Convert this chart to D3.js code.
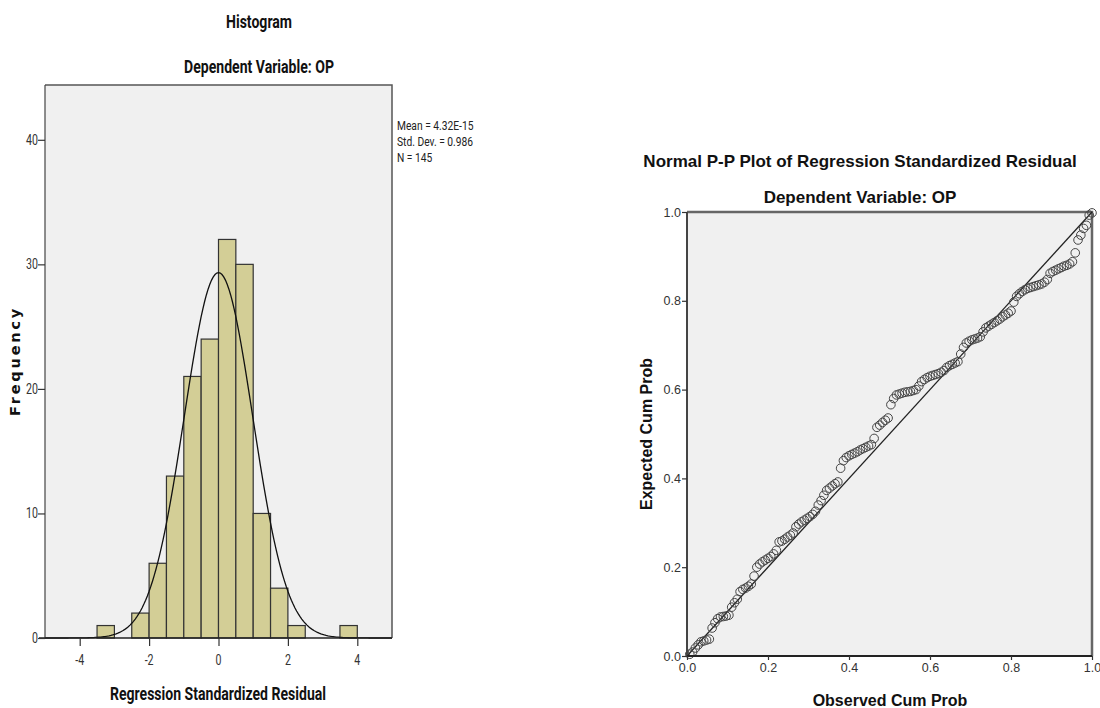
<!DOCTYPE html>
<html>
<head>
<meta charset="utf-8">
<script src="https://cdn.jsdelivr.net/npm/d3@7"></script>
<style>
  body { margin: 0; background: #fff; }
  .narrow { font-family: 'Liberation Sans Narrow', 'Arial Narrow', Roboto, sans-serif; }
  .wide { font-family: 'Liberation Sans', Arial, sans-serif; }
</style>
</head>
<body>
<svg id="chart" width="1100" height="708"></svg>
<script>
// histogram bins (width 0.5) and counts
const binStarts = [-3.5, -2.5, -2, -1.5, -1, -0.5, 0, 0.5, 1, 1.5, 2, 3.5];
const binCounts = [1, 2, 6, 13, 21, 24, 32, 30, 10, 4, 1, 1];
const binWidth = 0.5;
const histXTicks = [-4, -2, 0, 2, 4];
const histYTicks = [0, 10, 20, 30, 40];
const statLines = ['Mean = 4.32E-15', 'Std. Dev. = 0.986', 'N = 145'];
const statMean = 0, statSd = 0.986, statN = 145;

// P-P plot: expected cum prob for each residual, in rank order
const expectedCum = [
  0.004, 0.009, 0.018, 0.025, 0.032, 0.034, 0.036, 0.038, 0.063, 0.075,
  0.084, 0.088, 0.089, 0.090, 0.092, 0.110, 0.120, 0.128, 0.145, 0.150,
  0.153, 0.157, 0.162, 0.180, 0.200, 0.207, 0.212, 0.216, 0.220, 0.224,
  0.230, 0.238, 0.257, 0.259, 0.263, 0.268, 0.272, 0.277, 0.291, 0.297,
  0.302, 0.306, 0.310, 0.314, 0.319, 0.326, 0.340, 0.350, 0.362, 0.373,
  0.378, 0.383, 0.388, 0.392, 0.423, 0.440, 0.447, 0.451, 0.454, 0.457,
  0.460, 0.464, 0.467, 0.470, 0.473, 0.476, 0.490, 0.515, 0.520, 0.526,
  0.531, 0.536, 0.566, 0.580, 0.588, 0.590, 0.592, 0.594, 0.595, 0.596,
  0.598, 0.600, 0.608, 0.618, 0.623, 0.627, 0.630, 0.632, 0.634, 0.636,
  0.639, 0.643, 0.650, 0.654, 0.657, 0.660, 0.663, 0.680, 0.695, 0.705,
  0.709, 0.712, 0.714, 0.716, 0.719, 0.730, 0.739, 0.743, 0.747, 0.751,
  0.755, 0.759, 0.764, 0.768, 0.772, 0.777, 0.797, 0.810, 0.816, 0.821,
  0.825, 0.828, 0.830, 0.832, 0.834, 0.836, 0.838, 0.842, 0.848, 0.862,
  0.866, 0.869, 0.872, 0.875, 0.878, 0.880, 0.883, 0.888, 0.908, 0.937,
  0.948, 0.963, 0.970, 0.993, 0.998
];
const ppTicks = [0, 0.2, 0.4, 0.6, 0.8, 1.0];

const svg = d3.select('#chart');

// narrow text: no condensed face installed, so squeeze horizontally
const squeeze = 0.76;
function narrowText(g, x, y, str, size, weight, anchor) {
  return g.append('text')
    .attr('class', 'narrow')
    .attr('transform', `translate(${x},${y}) scale(${squeeze},1)`)
    .attr('text-anchor', anchor || 'start')
    .attr('font-size', size)
    .attr('font-weight', weight || 'normal')
    .attr('fill', '#111')
    .text(str);
}

// ---------- histogram ----------
const h = { left: 45, right: 392, top: 85, bottom: 638 };
const hx = d3.scaleLinear().domain([-5, 5]).range([h.left, h.right]);
const hy = d3.scaleLinear().domain([0, 44.4]).range([h.bottom, h.top]);

const hg = svg.append('g');

hg.append('rect')
  .attr('x', h.left).attr('y', h.top)
  .attr('width', h.right - h.left).attr('height', h.bottom - h.top)
  .attr('fill', '#f0f0f0');

hg.selectAll('rect.bar')
  .data(binStarts.map((s, i) => ({ s, c: binCounts[i] })))
  .enter().append('rect')
  .attr('class', 'bar')
  .attr('x', d => hx(d.s))
  .attr('y', d => hy(d.c))
  .attr('width', d => hx(d.s + binWidth) - hx(d.s))
  .attr('height', d => hy(0) - hy(d.c))
  .attr('fill', '#d3ce96')
  .attr('stroke', '#333')
  .attr('stroke-width', 1.2);

// fitted normal curve from the reported statistics
const curveXs = d3.range(-5, 5.001, 0.05);
const dens = x => statN * binWidth * Math.exp(-0.5 * ((x - statMean) / statSd) ** 2) / (statSd * Math.sqrt(2 * Math.PI));
hg.append('path')
  .attr('d', d3.line().x(d => hx(d)).y(d => hy(dens(d)))(curveXs))
  .attr('fill', 'none')
  .attr('stroke', '#111')
  .attr('stroke-width', 1.3);

// frame
hg.append('path')
  .attr('d', `M${h.left},${h.top}H${h.right}V${h.bottom}`)
  .attr('fill', 'none').attr('stroke', '#555').attr('stroke-width', 1.5);
hg.append('line')
  .attr('x1', h.left).attr('x2', h.left).attr('y1', h.top).attr('y2', h.bottom)
  .attr('stroke', '#444').attr('stroke-width', 1.2);
hg.append('line')
  .attr('x1', h.left - 6).attr('x2', h.right).attr('y1', h.bottom).attr('y2', h.bottom)
  .attr('stroke', '#222').attr('stroke-width', 1.5);

const hxAxis = hg.append('g')
  .attr('transform', `translate(0,${h.bottom})`)
  .call(d3.axisBottom(hx).tickValues(histXTicks).tickSize(8).tickSizeOuter(0).tickFormat(() => ''));
hxAxis.select('.domain').remove();
const hyAxis = hg.append('g')
  .attr('transform', `translate(${h.left},0)`)
  .call(d3.axisLeft(hy).tickValues(histYTicks).tickSize(7).tickSizeOuter(0).tickFormat(() => ''));
hyAxis.select('.domain').remove();
[hxAxis, hyAxis].forEach(a => a.selectAll('line').attr('stroke', '#333').attr('stroke-width', 1.2));

histXTicks.forEach(t => narrowText(hg, hx(t), 665, String(t), 14, 'normal', 'middle').attr('fill', '#333'));
histYTicks.forEach(t => narrowText(hg, h.left - 7, hy(t) + 5, String(t), 14, 'normal', 'end').attr('fill', '#333'));

narrowText(hg, 259, 28, 'Histogram', 18.5, 'bold', 'middle');
narrowText(hg, 259, 73, 'Dependent Variable: OP', 18.5, 'bold', 'middle');
narrowText(hg, 218, 700, 'Regression Standardized Residual', 18.5, 'bold', 'middle');
hg.append('text')
  .attr('transform', 'translate(20,361) rotate(-90)')
  .attr('text-anchor', 'middle')
  .attr('font-family', "'DejaVu Sans', sans-serif")
  .attr('font-size', 14.5).attr('font-weight', 'bold').attr('letter-spacing', 2.8).attr('fill', '#111')
  .text('Frequency');

statLines.forEach((s, i) => narrowText(hg, 397, 130 + i * 16, s, 13.5, 'normal', 'start').attr('fill', '#222'));

// ---------- P-P plot ----------
const p = { left: 687, right: 1092, top: 212, bottom: 656 };
const px = d3.scaleLinear().domain([0, 1]).range([p.left, p.right]);
const py = d3.scaleLinear().domain([0, 1]).range([p.bottom, p.top]);
const n = expectedCum.length;

const pg = svg.append('g');

pg.append('rect')
  .attr('x', p.left).attr('y', p.top)
  .attr('width', p.right - p.left).attr('height', p.bottom - p.top)
  .attr('fill', '#f0f0f0');

pg.append('path')
  .attr('d', `M${p.left},${p.top}H${p.right}V${p.bottom}`)
  .attr('fill', 'none').attr('stroke', '#666').attr('stroke-width', 2.5);

pg.append('line')
  .attr('x1', px(0)).attr('y1', py(0)).attr('x2', px(1)).attr('y2', py(1))
  .attr('stroke', '#222').attr('stroke-width', 1.3);

pg.selectAll('circle')
  .data(expectedCum)
  .enter().append('circle')
  .attr('cx', (d, i) => px((i + 1) / n))
  .attr('cy', d => py(d))
  .attr('r', 4.3)
  .attr('fill', 'none')
  .attr('stroke', '#444')
  .attr('stroke-width', 1);

pg.append('line')
  .attr('x1', p.left).attr('x2', p.left).attr('y1', p.top).attr('y2', p.bottom)
  .attr('stroke', '#444').attr('stroke-width', 2);
pg.append('line')
  .attr('x1', p.left).attr('x2', p.right).attr('y1', p.bottom).attr('y2', p.bottom)
  .attr('stroke', '#222').attr('stroke-width', 2);

const pxAxis = pg.append('g')
  .attr('transform', `translate(0,${p.bottom})`)
  .call(d3.axisBottom(px).tickValues(ppTicks).tickFormat(d3.format('.1f')).tickSize(4).tickSizeOuter(0).tickPadding(3));
pxAxis.select('.domain').remove();

const pyAxis = pg.append('g')
  .attr('transform', `translate(${p.left},0)`)
  .call(d3.axisLeft(py).tickValues(ppTicks).tickFormat(d3.format('.1f')).tickSize(5).tickSizeOuter(0).tickPadding(1));
pyAxis.select('.domain').remove();

[pxAxis, pyAxis].forEach(a => {
  a.selectAll('line').attr('stroke', '#333').attr('stroke-width', 1.2);
  a.selectAll('text').attr('class', 'wide').attr('font-size', 12.5).attr('fill', '#333');
});

pg.append('text').attr('class', 'wide')
  .attr('x', 860).attr('y', 167).attr('text-anchor', 'middle')
  .attr('font-size', 17).attr('font-weight', 'bold').attr('fill', '#111')
  .text('Normal P-P Plot of Regression Standardized Residual');
pg.append('text').attr('class', 'wide')
  .attr('x', 860).attr('y', 203).attr('text-anchor', 'middle')
  .attr('font-size', 17).attr('font-weight', 'bold').attr('fill', '#111')
  .text('Dependent Variable: OP');
pg.append('text').attr('class', 'wide')
  .attr('x', 890).attr('y', 706).attr('text-anchor', 'middle')
  .attr('font-size', 16).attr('font-weight', 'bold').attr('fill', '#111')
  .text('Observed Cum Prob');
pg.append('text').attr('class', 'wide')
  .attr('transform', 'translate(652,434) rotate(-90)')
  .attr('text-anchor', 'middle')
  .attr('font-size', 16).attr('font-weight', 'bold').attr('fill', '#111')
  .text('Expected Cum Prob');
</script>
</body>
</html>
